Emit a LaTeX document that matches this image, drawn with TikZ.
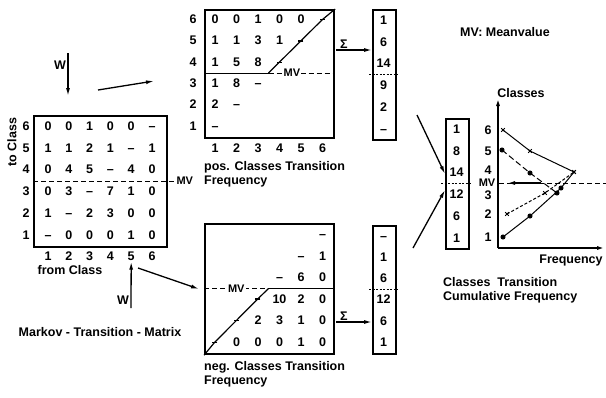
\documentclass[tikz,border=0pt]{standalone}
\usepackage{fontspec}
\setmainfont{Liberation Sans}
\usetikzlibrary{arrows.meta, positioning, plotmarks}

\begin{document}
\begin{tikzpicture}[
    >={Latex[length=8pt,width=4pt]}, % Set default arrow tip style
    x=1pt, y=-1pt,
    every node/.style={font=\bfseries\fontsize{12.5}{14}\selectfont, inner sep=1pt},
    cell/.style={text height=9pt, text depth=0pt},
    frame/.style={draw, line width=2.2pt, anchor=north west},
    mvline/.style={dash pattern=on 5pt off 3pt, line width=1pt},
    conn/.style={->, line width=1.3pt},
    mvlabel/.style={fill=white, inner sep=1pt, font=\bfseries\fontsize{11}{12}\selectfont}
]
    \useasboundingbox (0,0) rectangle (606,397);

    % Markov-Transition-Matrix
    \node[frame, minimum width=133pt, minimum height=131pt] (markov) at (33,115) {};
    \foreach \vals [count=\r] in {{0,0,1,0,0,–},{1,1,2,1,–,1},{0,4,5,–,4,0},{0,3,–,7,1,0},{1,–,2,3,0,0},{–,0,0,0,1,0}}
        \foreach \v [count=\c] in \vals
            \node[cell] (m\r\c) at ({48+20.8*(\c-1)}, {126+21.7*(\r-1)}) {\v};
    \foreach \n [count=\r] in {6,5,4,3,2,1}
        \node[cell] (mrow\n) at (26, {126+21.7*(\r-1)}) {\n}; % to class
    \foreach \n in {1,...,6}
        \node[cell] (mcol\n) at ({48+20.8*(\n-1)}, 256) {\n}; % from class
    \draw[mvline] (markov.west |- 0,181) -- (175,181) node[mvlabel, right=0pt] (mvmain) {MV};
    \node[rotate=90] (toclass) at (12,142) {to Class};
    \node (fromclass) at (70,270) {from Class};
    \node (markovtext) at (100,332) {Markov - Transition - Matrix};

    % W arrows
    \coordinate (wtopA) at (68,53);
    \coordinate (wtopB) at (68,96);
    \draw[conn] (wtopA) -- (wtopB);
    \node[left=1pt of wtopA, yshift=-12pt] (wtop) {W};
    \coordinate (wbotA) at (131,308);
    \draw[conn] (wbotA) -- (mcol5.south);
    \node[left=1pt of wbotA, yshift=8pt] (wbot) {W};

    % Arrows to the split matrices
    \coordinate (toposA) at (98,90);
    \coordinate (toposB) at (154,81);
    \draw[conn] (toposA) -- (toposB);
    \coordinate (tonegA) at (138,268);
    \coordinate (tonegB) at (199,289);
    \draw[conn] (tonegA) -- (tonegB);

    % pos. matrix
    \node[frame, minimum width=129pt, minimum height=128pt] (pos) at (204,9) {};
    \foreach \vals [count=\r] in {{0,0,1,0,0},{1,1,3,1},{1,5,8},{1,8,–},{2,–},{–}}
        \foreach \v [count=\c] in \vals
            \node[cell] (p\r\c) at ({215+21.5*(\c-1)}, {19+21.3*(\r-1)}) {\v};
    \foreach \n [count=\r] in {6,5,4,3,2,1}
        \node[cell] (prow\n) at (193, {19+21.3*(\r-1)}) {\n};
    \foreach \n in {1,...,6}
        \node[cell] (pcol\n) at ({215+21.5*(\n-1)}, 148) {\n};
    \draw[line width=1pt] (204,73) -- (268.5,73);
    \draw[mvline] (268.5,73) -- node[mvlabel, pos=0.35] (mvpos) {MV} (pos.east |- 0,73);
    \draw[line width=1.2pt, mark=-, mark size=2.5pt, mark indices={2,3,4}]
        plot coordinates {(268.5,73) (279.25,62.3) (300.75,41) (322.25,19.7) (pos.north east)};
    \node[anchor=north west, align=left] (postext) at (203,160) {pos. Classes Transition\\Frequency};

    % neg. matrix
    \node[frame, minimum width=129pt, minimum height=130pt] (neg) at (204,223) {};
    \foreach \s/\vals [count=\r] in {6/{–},5/{–,1},4/{–,6,0},4/{10,2,0},3/{2,3,1,0},2/{0,0,0,1,0}}
        \foreach \v [count=\k] in \vals
            \node[cell] (n\r\k) at ({215+21.5*(\s+\k-2)}, {234+21.6*(\r-1)}) {\v};
    \draw[mvline] (neg.west |- 0,288.5) -- node[mvlabel, pos=0.5] (mvneg) {MV} (268.5,288.5);
    \draw[line width=1pt] (268.5,288.5) -- (333,288.5);
    \draw[line width=1.2pt, mark=-, mark size=2.5pt, mark indices={2,3,4}]
        plot coordinates {(neg.south west) (214.75,342.2) (236.25,320.6) (257.75,299) (268.5,288.5)};
    \node[anchor=north west, align=left] (negtext) at (203,360) {neg. Classes Transition\\Frequency};

    % Sum vectors
    \node[frame, minimum width=23pt, minimum height=130pt] (posvec) at (372,9) {};
    \foreach \v [count=\r] in {1,6,14,9,2,–}
        \node[cell] (pv\r) at (383.5, {20+21.7*(\r-1)}) {\v};
    \draw[dash pattern=on 2pt off 1.5pt, line width=0.8pt] (369,74.5) -- (398,74.5);
    \coordinate (sumposA) at (336,50);
    \draw[conn] (sumposA) -- (posvec.west |- sumposA);
    \node[above right=0pt and 3pt of sumposA] (sumpos) {Σ};

    \node[frame, minimum width=23pt, minimum height=128pt] (negvec) at (372,225) {};
    \foreach \v [count=\r] in {–,1,6,12,6,1}
        \node[cell] (nv\r) at (383.5, {235.5+21.3*(\r-1)}) {\v};
    \draw[dash pattern=on 2pt off 1.5pt, line width=0.8pt] (369,289.5) -- (398,289.5);
    \coordinate (sumnegA) at (336,322);
    \draw[conn] (sumnegA) -- (negvec.west |- sumnegA);
    \node[above right=0pt and 3pt of sumnegA] (sumneg) {Σ};

    % Cumulative vector
    \node[frame, minimum width=23pt, minimum height=130pt] (cumvec) at (445,118) {};
    \foreach \v [count=\r] in {1,8,14,12,6,1}
        \node[cell] (cv\r) at (456.5, {129+21.7*(\r-1)}) {\v};
    \draw[dash pattern=on 2pt off 1.5pt, line width=0.8pt] (441,183) -- (471,183);
    \coordinate (fromposA) at (417,115);
    \draw[conn] (fromposA) -- (cumvec.west |- 0,174);
    \coordinate (fromnegA) at (413,248);
    \draw[conn] (fromnegA) -- (cumvec.west |- 0,190);

    % Graph
    \coordinate (origin) at (498,248);
    \coordinate (yend) at (498,98);
    \coordinate (xend) at (605,248);
    \draw[->, line width=1.6pt] (origin) -- (yend);
    \draw[->, line width=1.6pt] (origin) -- (xend);
    \node (classes) at (521,93) {Classes};
    \node (freq) at (571,260) {Frequency};
    \foreach \n/\y in {6/130,5/151,4/170,3/195,2/214,1/237}
        \node[cell] (g\n) at (488,\y) {\n};
    \node[mvlabel] (mvgraph) at (487,183) {MV};
    \draw[mvline] (499,183) -- (606,183);
    \draw[conn, line width=2.2pt] (541,183) -- (507,183);
    \draw[line width=1pt, mark=x, mark size=2.5pt]
        plot coordinates {(503,130) (530,151) (574,172)};
    \draw[dash pattern=on 6pt off 3pt, line width=1pt, mark=*, mark size=2pt, mark options={solid}]
        plot coordinates {(502,150) (530,173) (557,193)};
    \draw[dash pattern=on 3pt off 2pt, line width=1pt, mark=x, mark size=2.5pt, mark options={solid}]
        plot coordinates {(507,214) (545,193) (574,172)};
    \draw[line width=1pt, mark=*, mark size=2pt, mark indices={1,2,3}]
        plot coordinates {(503,237) (530,216) (561,188) (574,172)};
    \node[anchor=north west, align=left] (cumtext) at (442,276) {Classes\ \ Transition\\Cumulative Frequency};

    \node (mvnote) at (505,32) {MV:\ Meanvalue};

\end{tikzpicture}
\end{document}
